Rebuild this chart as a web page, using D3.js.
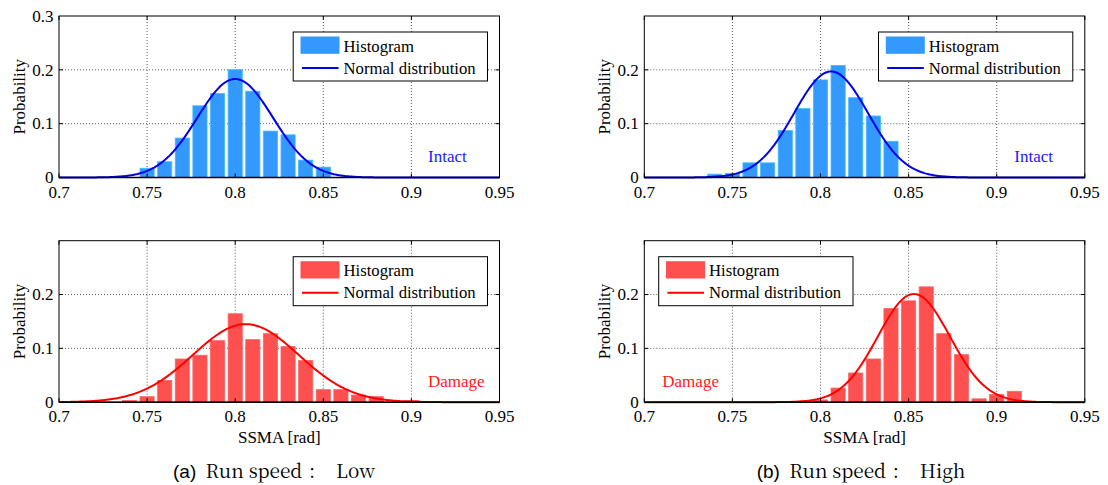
<!DOCTYPE html>
<html>
<head>
<meta charset="utf-8">
<script src="https://cdn.jsdelivr.net/npm/d3@7"></script>
<style>
  body { margin: 0; background: #fff; }
</style>
</head>
<body>
<div class="grafico"></div>
<script>
var width = 1108, height = 485;

// bin centres and probabilities (bin width 0.01)
var binWidth = 0.01;
var lowIntactBins = [0.75, 0.76, 0.77, 0.78, 0.79, 0.80, 0.81, 0.82, 0.83, 0.84, 0.85];
var lowIntactProb = [0.018, 0.030, 0.074, 0.134, 0.157, 0.201, 0.161, 0.087, 0.080, 0.033, 0.020];
var highIntactBins = [0.74, 0.75, 0.76, 0.77, 0.78, 0.79, 0.80, 0.81, 0.82, 0.83, 0.84];
var highIntactProb = [0.007, 0.008, 0.028, 0.028, 0.088, 0.129, 0.182, 0.209, 0.149, 0.115, 0.068];
var lowDamageBins = [0.74, 0.75, 0.76, 0.77, 0.78, 0.79, 0.80, 0.81, 0.82, 0.83, 0.84, 0.85, 0.86, 0.87, 0.88, 0.89, 0.90];
var lowDamageProb = [0.004, 0.011, 0.041, 0.081, 0.088, 0.115, 0.165, 0.117, 0.128, 0.104, 0.078, 0.024, 0.024, 0.014, 0.011, 0, 0.004];
var highDamageBins = [0.80, 0.81, 0.82, 0.83, 0.84, 0.85, 0.86, 0.87, 0.88, 0.89, 0.90, 0.91];
var highDamageProb = [0.005, 0.027, 0.055, 0.081, 0.175, 0.189, 0.215, 0.128, 0.089, 0.007, 0.015, 0.021];

// fitted normal curves: mean, std, peak
var lowIntactFit = [0.800, 0.0215, 0.183];
var highIntactFit = [0.806, 0.0210, 0.197];
var lowDamageFit = [0.806, 0.0300, 0.145];
var highDamageFit = [0.853, 0.0205, 0.201];

var xTicks = [0.7, 0.75, 0.8, 0.85, 0.9, 0.95];
var xLabels = ["0.7", "0.75", "0.8", "0.85", "0.9", "0.95"];

var blueBar = "#3399ff", blueLine = "#0000ee", blueText = "#1a1aff";
var redBar = "#ff5050", redLine = "#ff0000", redText = "#ff1a1a";

var serif = "Liberation Serif";
var fs = 17;

var panels = [
  { left: 59, top: 16, bins: lowIntactBins, prob: lowIntactProb, fit: lowIntactFit,
    bar: blueBar, line: blueLine, txtColor: blueText, tag: "Intact", tagX: 369,
    legendLeft: false, yTicks: [0, 0.1, 0.2, 0.3], xTitle: false },
  { left: 644.3, top: 16, bins: highIntactBins, prob: highIntactProb, fit: highIntactFit,
    bar: blueBar, line: blueLine, txtColor: blueText, tag: "Intact", tagX: 370,
    legendLeft: false, yTicks: [0, 0.1, 0.2], xTitle: false },
  { left: 59, top: 240.7, bins: lowDamageBins, prob: lowDamageProb, fit: lowDamageFit,
    bar: redBar, line: redLine, txtColor: redText, tag: "Damage", tagX: 369,
    legendLeft: false, yTicks: [0, 0.1, 0.2], xTitle: true },
  { left: 644.3, top: 240.7, bins: highDamageBins, prob: highDamageProb, fit: highDamageFit,
    bar: redBar, line: redLine, txtColor: redText, tag: "Damage", tagX: 18,
    legendLeft: true, yTicks: [0, 0.1, 0.2], xTitle: true }
];

var pw = 440.5, ph = 161.5;

var svg = d3.select(".grafico").append("svg")
  .attr("width", width)
  .attr("height", height);

svg.append("rect").attr("width", width).attr("height", height).attr("fill", "#fff");

panels.forEach(function (p) {
  var x = d3.scaleLinear().domain([0.7, 0.95]).range([0, pw]);
  var y = d3.scaleLinear().domain([0, 0.3]).range([ph, 0]);
  var g = svg.append("g").attr("transform", "translate(" + p.left + "," + p.top + ")");

  g.append("rect").attr("width", pw).attr("height", ph).attr("fill", "#fff");

  // grid
  g.append("g").selectAll("line")
    .data(xTicks.slice(1, -1))
    .enter().append("line")
    .attr("x1", d => x(d)).attr("x2", d => x(d))
    .attr("y1", 0).attr("y2", ph)
    .attr("stroke", "#333").attr("stroke-width", 0.8)
    .attr("stroke-dasharray", "1,2");
  g.append("g").selectAll("line")
    .data([0.1, 0.2])
    .enter().append("line")
    .attr("x1", 0).attr("x2", pw)
    .attr("y1", d => y(d)).attr("y2", d => y(d))
    .attr("stroke", "#333").attr("stroke-width", 0.8)
    .attr("stroke-dasharray", "1,2");

  // bars
  var bw = x(0.7 + binWidth) - x(0.7);
  g.append("g").selectAll("rect")
    .data(p.bins.map((b, i) => ({ c: b, v: p.prob[i] })).filter(d => d.v > 0))
    .enter().append("rect")
    .attr("x", d => x(d.c) - bw * 0.425 + 0.4)
    .attr("width", bw * 0.85 - 0.8)
    .attr("y", d => y(d.v) + 0.4)
    .attr("height", d => Math.max(0, ph - y(d.v) - 0.4))
    .attr("fill", p.bar)
    .attr("stroke", d3.color(p.bar).brighter(0.6))
    .attr("stroke-width", 0.8);

  // normal curve
  var pts = d3.range(0.7, 0.9501, 0.001).map(function (v) {
    var z = (v - p.fit[0]) / p.fit[1];
    return [v, p.fit[2] * Math.exp(-0.5 * z * z)];
  });
  g.append("path")
    .datum(pts)
    .attr("fill", "none")
    .attr("stroke", p.line)
    .attr("stroke-width", 2)
    .attr("d", d3.line().x(d => x(d[0])).y(d => y(d[1])));

  // frame + ticks
  g.append("rect").attr("width", pw).attr("height", ph)
    .attr("fill", "none").attr("stroke", "#000").attr("stroke-width", 1);
  g.append("line").attr("x1", 0).attr("x2", pw).attr("y1", ph).attr("y2", ph)
    .attr("stroke", "#000").attr("stroke-width", 1.6);
  xTicks.forEach(function (t) {
    g.append("line").attr("x1", x(t)).attr("x2", x(t)).attr("y1", ph).attr("y2", ph - 4).attr("stroke", "#000");
    g.append("line").attr("x1", x(t)).attr("x2", x(t)).attr("y1", 0).attr("y2", 4).attr("stroke", "#000");
  });
  [0.1, 0.2].forEach(function (t) {
    g.append("line").attr("x1", 0).attr("x2", 4).attr("y1", y(t)).attr("y2", y(t)).attr("stroke", "#000");
    g.append("line").attr("x1", pw).attr("x2", pw - 4).attr("y1", y(t)).attr("y2", y(t)).attr("stroke", "#000");
  });

  // tick labels
  g.append("g").selectAll("text")
    .data(xTicks)
    .enter().append("text")
    .attr("x", d => x(d))
    .attr("y", ph + 20)
    .attr("text-anchor", "middle")
    .attr("font-family", serif)
    .attr("font-size", fs)
    .text((d, i) => xLabels[i]);
  g.append("g").selectAll("text")
    .data(p.yTicks)
    .enter().append("text")
    .attr("x", -5.5)
    .attr("y", d => y(d) + 5.8)
    .attr("text-anchor", "end")
    .attr("font-family", serif)
    .attr("font-size", fs)
    .text(d => d === 0 ? "0" : d3.format(".1f")(d));

  g.append("text")
    .attr("transform", "translate(-34.5," + (ph / 2) + ") rotate(-90)")
    .attr("text-anchor", "middle")
    .attr("font-family", serif)
    .attr("font-size", fs)
    .text("Probability");

  if (p.xTitle) {
    g.append("text")
      .attr("x", pw / 2)
      .attr("y", ph + 40.5)
      .attr("text-anchor", "middle")
      .attr("font-family", serif)
      .attr("font-size", fs)
      .text("SSMA [rad]");
  }

  // label
  g.append("text")
    .attr("x", p.tagX)
    .attr("y", ph - 15.5)
    .attr("fill", p.txtColor)
    .attr("font-family", serif)
    .attr("font-size", fs)
    .text(p.tag);

  // legend
  var lx = p.legendLeft ? 14.4 : pw - 12 - 194.3;
  var lg = g.append("g").attr("transform", "translate(" + lx + ",16)");
  lg.append("rect").attr("width", 194.3).attr("height", 49)
    .attr("fill", "#fff").attr("stroke", "#000").attr("stroke-width", 1);
  lg.append("rect").attr("x", 7.3).attr("y", 4.5).attr("width", 39).attr("height", 17.3)
    .attr("fill", p.bar);
  lg.append("text").attr("x", 50.3).attr("y", 19.5)
    .attr("font-family", serif).attr("font-size", 16.7).text("Histogram");
  lg.append("line").attr("x1", 8.7).attr("x2", 45.3).attr("y1", 36).attr("y2", 36)
    .attr("stroke", p.line).attr("stroke-width", 2);
  lg.append("text").attr("x", 50.3).attr("y", 41.8)
    .attr("font-family", serif).attr("font-size", 16.7).text("Normal distribution");
});

// captions, one text per font run
var capSerif = "Noto Serif CJK JP";
[["(a)", "Low", 173], ["(b)", "High", 756.7]].forEach(function (c) {
  var parts = [
    [c[0], 0, "Liberation Sans"],
    ["Run speed", 32.5, capSerif],
    [":", 136, capSerif],
    [c[1], 163, capSerif]
  ];
  parts.forEach(function (q) {
    svg.append("text")
      .attr("x", c[2] + q[1])
      .attr("y", 477.5)
      .attr("font-family", q[2])
      .attr("font-size", 19)
      .text(q[0]);
  });
});
</script>
</body>
</html>
